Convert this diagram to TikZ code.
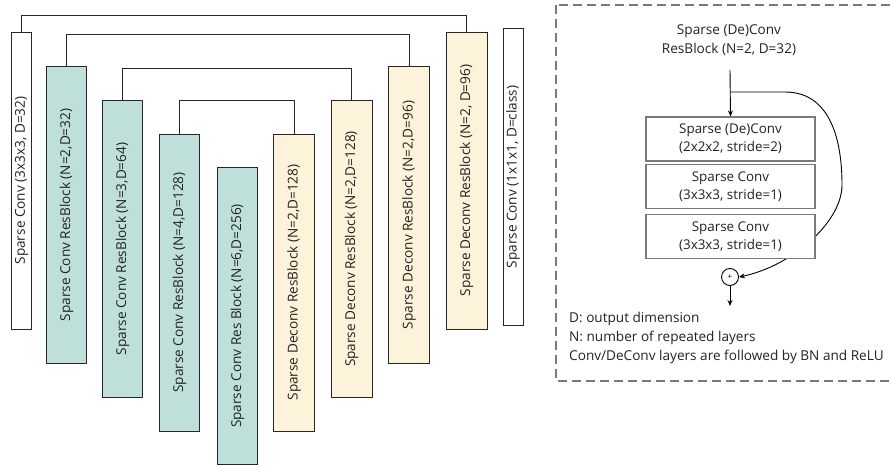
\documentclass[tikz,border=0pt]{standalone}
\usepackage{fontspec}
\setmainfont{Open Sans}
\usetikzlibrary{arrows.meta}
\definecolor{tealfill}{HTML}{BFE0DA}
\definecolor{yelfill}{HTML}{FDF3DA}
\definecolor{txt}{HTML}{222222}
\definecolor{gbord}{HTML}{7A7A7A}
\begin{document}
\begin{tikzpicture}[x=1pt,y=-1pt,
  lay/.style={draw=black!85, line width=1pt, rotate=90, inner sep=0pt,
    minimum width=297pt, font=\fontsize{13.6}{16}\selectfont, text=txt},
  wlay/.style={lay, fill=white, minimum height=20pt},
  tlay/.style={lay, fill=tealfill, minimum height=40pt},
  ylay/.style={lay, fill=yelfill, minimum height=41pt},
  skip/.style={draw=black!85, line width=0.9pt},
  rbox/.style={draw=gbord, line width=1.1pt, fill=white, minimum width=169pt,
    minimum height=44pt, align=center, inner sep=0pt,
    font=\fontsize{13.4}{18}\selectfont, text=txt},
  arr/.style={line width=0.9pt, -{Stealth[length=6pt,width=5pt]}},
  plain/.style={font=\fontsize{13.6}{19}\selectfont, text=txt, inner sep=0pt}
]
\useasboundingbox (0,0) rectangle (891,466);
\node[wlay] (b1) at (21.5,180.5) {Sparse Conv (3x3x3, D=32)};
\node[tlay] (b2) at (66.5,215) {Sparse Conv ResBlock (N=2,D=32)};
\node[tlay] (b3) at (122.5,249) {Sparse Conv ResBlock (N=3,D=64)};
\node[tlay] (b4) at (179.5,282.5) {Sparse Conv ResBlock (N=4,D=128)};
\node[tlay] (b5) at (237.5,316) {Sparse Conv Res Block (N=6,D=256)};
\node[ylay] (b6) at (294,282.5) {Sparse Deconv ResBlock (N=2,D=128)};
\node[ylay] (b7) at (351.5,249) {Sparse Deconv ResBlock (N=2,D=128)};
\node[ylay] (b8) at (409,215) {Sparse Deconv ResBlock (N=2,D=96)};
\node[ylay] (b9) at (466.5,180.5) {Sparse Deconv ResBlock (N=2, D=96)};
\node[wlay] (b10) at (513,177) {Sparse Conv (1x1x1, D=class)};
\draw[skip] (b1.east) -- (b1.east |- 0,15) -| (b9.east);
\draw[skip] (b2.east) -- (b2.east |- 0,34) -| (b8.east);
\draw[skip] (b3.east) -- (b3.east |- 0,68.5) -| (b7.east);
\draw[skip] (b4.east) -- (b4.east |- 0,100.5) -| (b6.east);
% right panel
\begin{scope}
\clip (540,0) rectangle (891,466);
\draw[gbord, line width=1.1pt, dash pattern=on 9pt off 5pt] (556,5) rectangle (900,381);
\end{scope}
\node[plain, align=center] (title) at (729,40) {Sparse (De)Conv\\ResBlock (N=2, D=32)};
\node[rbox] (ra) at (730.5,139) {Sparse (De)Conv\\(2x2x2, stride=2)};
\node[rbox] (rb) at (730.5,186.5) {Sparse Conv\\(3x3x3, stride=1)};
\coordinate (in) at (730,70);
\coordinate (fork) at (730,92);
\coordinate (out) at (730,306);
\node[draw=black, line width=0.9pt, circle, minimum size=17pt, inner sep=0pt, font=\fontsize{8}{8}\selectfont] (sum) at (730,277) {+};
\draw[arr] (fork) -- (785,92) .. controls (835,92) and (842,150) .. (842,185)
  .. controls (842,222) and (792,266) .. (sum.east);
\node[rbox] (rc) at (730.5,236.5) {Sparse Conv\\(3x3x3, stride=1)};
\draw[arr] (in) -- (ra.north);
\draw[arr] (sum.south) -- (out);
\node[plain, align=left, anchor=north west] (legend) at (569,312)
  {D: output dimension\\N: number of repeated layers\\Conv/DeConv layers are followed by BN and ReLU};
\end{tikzpicture}
\end{document}
